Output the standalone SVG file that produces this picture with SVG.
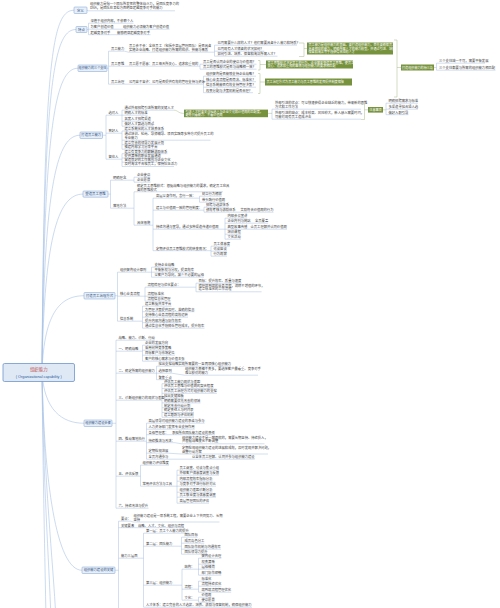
<svg xmlns="http://www.w3.org/2000/svg" width="500" height="608" viewBox="0 0 500 608">
<style>
text{font-family:"Noto Sans CJK SC","Noto Sans",sans-serif}
.t{font-size:3.3px;fill:#404040}
.bt{font-size:3.3px;fill:#2f4f7f;text-anchor:middle}
.gt{font-size:3.1px;fill:#fff}
.box{fill:#e7eff9;stroke:#7b9fd2;stroke-width:.5}
.gbox{fill:#76923c}
.ln{fill:none;stroke:#9cb7de;stroke-width:.45}
.rc{fill:none;stroke:#a9c2e6;stroke-width:.6}
.gl{fill:none;stroke:#a3b27f;stroke-width:.45}
</style>
<rect width="500" height="608" fill="#fff"/>
<g id="connectors">
<path class="rc" d="M42,372 C44,60 52,10.25 74,10.25 M42,372 C44,80 54,29.5 76,29.5 M42,372 C44,120 56,68.25 78,68.25 M42,372 C44,180 58,135.25 80,135.25 M42,372 C44,230 60,194.1 83,194.1 M42,372 C44,310 62,295.75 84,295.75 M42,372 C44,410 62,423.25 84,423.25 M42,372 C44,480 56,570.25 82,570.25 M42,372 C43,480 45,560 46,620 M42,372 C43,480 49,560 51,620 M42,372 C44,480 53,560 56,620"/>
<path class="ln" d="M87,10.25 L88.5,10.8 H175
M87,29.5 H88.5 M88.5,23.2 V34.7 M88.5,23.2 H133.5 M88.5,29.2 H114 L122.5,29.2 H169.5 M88.5,34.7 H110.5 L116.5,34.7 H150.5
M107,68.25 H108.5 M108.5,51.2 V84.2 M108.5,51.2 H124.5 L128.5,52.2 H212 H214.5 M214.5,45.2 V56.2 M214.5,45.2 H297 M214.5,51.2 H264.5 M214.5,56.2 H277.5
M108.5,66.2 H124.5 L128.5,66.2 H200 M200,64.2 V69.2 M200,64.2 H256.5 M200,69.2 H256.5
M108.5,84.2 H124.5 L128.5,84.2 H203.5 M203.5,76.2 V92.7 M203.5,76.2 H256 M203.5,81.7 H256 M203.5,87.2 H256 M203.5,92.7 H253
M434,67.5 H436.5 M436.5,63.2 V70.2 M436.5,63.2 H485 M436.5,70.2 H495.5
M102.5,135.25 H106 M106,115.2 V159.2
M106,115.2 H122 M122,110.2 V126.2 M122,110.2 H174 M122,115.2 H147.6 M122,121.2 H151 M122,126.2 H154
M272,109.2 V119.2 M272,109.2 H361 M272,119.2 H361
M386,103.2 V114.7 M386,103.2 H418 M386,109.2 H418 M386,114.7 H408.5
M106,133.2 H122 M122,131 V149.2 M122,131 H164 M122,140.2 H210.5 M122,144.7 H164 M122,149.2 H157.5
M106,159.2 H122 M122,153.7 V166.5 M122,153.7 H167.4 M122,158 H161 M122,162.2 H167.4 M122,166.5 H174
M108,194.1 H110.5 M110.5,180.2 V208.2
M110.5,180.2 H134 M134,177.2 V182.2 M134,177.2 H150.5 M134,182.2 H150.5
M110.5,208.2 H134 M134,191.8 V225.2 M134,191.8 H223 M134,225.2 H153 M153,198.2 V250.7
M153,198.2 H199.5 M199.5,196.2 V202.2 M199.5,196.2 H222 M199.5,202.2 H225
M153,210.2 H204 M204,207.2 V212.2 M204,207.2 H229 M204,212.2 H236 L240,212.2 H273.5
M153,229.2 H225 M225,218.2 V239.2 M225,218.2 H247.3 M225,223.2 H250.6 L254.5,223.2 H268.2 M225,229.2 H247.3 L250,229.2 H287 M225,234.2 H241 M225,239.2 H241
M153,250.7 H211 M211,246.2 V256.2 M211,246.2 H230 M211,251.2 H227 M211,256.2 H227
M115,295.75 H117.5 M117.5,272.2 V321.2
M117.5,272.2 H151.5 M151.5,267.2 V277.2 M151.5,267.2 H174.5 M151.5,272.2 H194 M151.5,277.2 H204
M117.5,296.2 H145 M145,287.2 V301.2 M145,287.2 H196 M196,283.2 V291.8 M196,283.2 H241.5 M196,291.8 H261.5 M145,296.2 H164 M145,301.2 H170.5
M117.5,321.2 H142.5 M142.5,306.2 V328.2 M142.5,306.2 H171.5 M142.5,311.7 H194.5 M142.5,317.2 H188 M142.5,322.7 H181.5 M142.5,328.2 H204.5
M112,423.25 H116 M116,340.2 V508.2
M116,340.2 H155
M116,351.2 H142.5 M142.5,345.2 V361.2 M142.5,345.2 H168 M142.5,350.2 H171.5 M142.5,355.2 H175 M142.5,361.2 H184.6
M116,373.2 H156.5 M156.5,366.2 V379.7 M156.5,366.2 H231 M156.5,373.2 H171.7 L184.5,375.2 H258 M156.5,379.7 H171.7
M116,400.2 H162 M162,383.7 V417.3 M162,383.7 H197 M162,388.5 H213.5 M162,393.3 H217 M162,398.1 H184 M162,402.9 H200.5 M162,407.7 H190.5 M162,412.5 H194 M162,417.3 H194
M116,441.2 H146.5 M146.5,423.2 V459.2 M146.5,423.2 H204.6 M146.5,429.2 H194.7 M146.5,434.7 H168.3 L171.5,434.7 H215 M146.5,442.7 H175 L181.5,443.8 H264.5 M146.5,453.2 H168.3 L181.5,454 H268 M146.5,459.2 H168.3 L191.5,459.2 H254.7
M116,476.2 H140.5 M140.5,465.2 V486.2 M140.5,465.2 H169 M140.5,486.2 H177 M177,470.2 V503.2 M177,470.2 H219 M177,475.2 H219 M177,481.2 H212.5 M177,486.2 H216 M177,492.2 H212.5 M177,497.2 H216 M177,503.2 H209
M116,508.2 H148.5
M115,570.25 H118.5 M118.5,521.2 V608
M118.5,521.2 H131 L133,522 H219.5
M118.5,527.7 H134.2 L137.5,527.7 H184.2
M118.5,558.2 H143.5 M143.5,533.2 V607.2 M143.5,533.2 H189 M143.5,546.2 H181.5 M181.5,537.2 V554.2 M181.5,537.2 H197.7 M181.5,543.2 H204.3 M181.5,549.2 H221 M181.5,554.2 H207.6
M143.5,585.2 H182 M182,569.2 V600.2 M182,569.2 H198.5 M198.5,558.2 V575.2 M198.5,558.2 H221.3 M198.5,564.2 H214.7 M198.5,569.2 H214.7 M198.5,575.2 H221.3
M182,589.2 H198.5 M198.5,581.2 V592.2 M198.5,581.2 H211.4 M198.5,586.2 H221.3 M198.5,592.2 H231.2
M182,600.2 H198.5 M198.5,597.2 V602.2 M198.5,597.2 H211.4 M198.5,602.2 H214.7 M143.5,607.2 H252"/>
<path class="gl" d="M299,43 H304 V56.5 H299 M304,48.5 H307 M258,60.5 H260 V70 H258 M260,64.5 H266 M258,73.5 H260 V93.5 H258 M260,82 H265 M394,40 H397 V97 H394 M397,67.5 H401 M174,110.2 C178,110.2 178,113.4 184,113.4 M268,113.4 H272 M361,104 H364.5 V119.5 H361 M364.5,109.8 H368 M383,109.8 H386"/>
</g>
<g id="root">
<rect x="3" y="363.5" width="71.5" height="18" rx="1.5" fill="#dfe9f6" stroke="#6f95cb" stroke-width=".8"/>
<text x="38.75" y="371" text-anchor="middle" style="font-size:4.4px;fill:#c0504d">组织能力</text>
<text x="38.75" y="377.6" text-anchor="middle" style="font-family:'Liberation Sans',sans-serif;font-size:3.8px;fill:#2e5c9a">( Organizational capability )</text>
</g>
<g id="n1">
<rect class="box" x="74" y="7" width="13" height="6.5" rx=".8"/>
<text class="bt" x="80.5" y="11.5" style="font-size:3.4px">定义</text>
</g>
<g id="n1-1"><text class="t" x="90" y="5.3">组织能力是指一个团队所发挥的整体战斗力，是团队竞争力的</text><text class="t" x="90" y="9.3">DNA，是团队在某些方面明显超越竞争对手的能力</text></g>
<g id="n2">
<rect class="box" x="76" y="26.5" width="11" height="6" rx=".8"/>
<text class="bt" x="81.5" y="30.7" style="font-size:3.4px">特点</text>
</g>
<g id="n2-1"><text class="t" x="90.5" y="22.15">深植于组织内部，不依赖个人</text></g>
<g id="n2-2"><text class="t" x="90.5" y="28.15">为客户创造价值</text><text class="t" x="123" y="28.15">组织能力必须能为客户创造价值</text></g>
<g id="n2-3"><text class="t" x="90.5" y="33.65">超越竞争对手</text><text class="t" x="117" y="33.65">能够明显超越竞争对手</text></g>
<g id="n3">
<rect class="box" x="78" y="65" width="29" height="6.5" rx=".8"/>
<text class="bt" x="92.5" y="69.4" style="font-size:3.1px">组织能力的三个支柱</text>
</g>
<g id="n3-1"><text class="t" x="111" y="50.15">员工能力</text></g>
<g id="n3-1-1"><text class="t" x="129" y="47">员工会不会：全体员工（包括中高层管理团队）是否具备</text><text class="t" x="129" y="50.8">实施企业战略、打造组织能力所需的知识、技能与素质</text></g>
<g id="n3-1-2"><text class="t" x="217.5" y="44.15">公司需要什么样的人才？他们需要具备什么能力和特质？</text></g>
<g id="n3-1-3"><text class="t" x="217.5" y="50.15">公司现有人才储备的状况如何？</text></g>
<g id="n3-1-4"><text class="t" x="217.5" y="55.15">如何引进、培养、保留和淘汰所需人才？</text></g>
<g id="g1"><rect class="gbox" x="307" y="42.5" width="86" height="12"/><text class="gt" x="308.5" y="46">员工能力是组织能力的基础。要打造组织能力，首先要确保员工</text><text class="gt" x="308.5" y="49.6">具备相应的能力，明确所需人才的能力模型，并通过引进、培养、</text><text class="gt" x="308.5" y="53.2">保留和淘汰等手段获得合适的人才</text></g>
<g id="n3-2"><text class="t" x="111" y="65.15">员工思维</text></g>
<g id="n3-2-1"><text class="t" x="129" y="65.15">员工愿不愿意：员工每天所关心、追求和重视的</text></g>
<g id="n3-2-2"><text class="t" x="203" y="63.15">员工是否认同企业的使命与价值观？</text></g>
<g id="n3-2-3"><text class="t" x="203" y="68.15">员工的思维模式是否与战略相一致？</text></g>
<g id="g2"><rect class="gbox" x="266" y="60.5" width="87" height="8"/><text class="gt" x="267.5" y="63.8">员工思维模式决定员工的行为。企业需要塑造员工思维，使员工</text><text class="gt" x="267.5" y="67.4">关心、追求和重视的事情与组织能力的要求相匹配</text></g>
<g id="n3-3"><text class="t" x="111" y="83.15">员工治理</text></g>
<g id="n3-3-1"><text class="t" x="129" y="83.15">公司容不容许：公司是否提供有效的管理支持与资源</text></g>
<g id="n3-3-2"><text class="t" x="206" y="75.15">组织架构是否能够支持企业战略？</text></g>
<g id="n3-3-3"><text class="t" x="206" y="80.65">核心业务流程是否简洁、标准化？</text></g>
<g id="n3-3-4"><text class="t" x="206" y="86.15">信息系统能否有效支持管理决策？</text></g>
<g id="n3-3-5"><text class="t" x="206" y="91.65">权责分配与决策机制是否合理？</text></g>
<g id="g3"><rect class="gbox" x="265" y="78.5" width="87" height="7"/><text class="gt" x="266.5" y="83.1">员工治理方式为员工能力与员工思维的发挥提供制度保障</text></g>
<g id="g4"><rect class="gbox" x="401" y="64.5" width="33" height="6"/><text class="gt" x="417.5" y="68.6" text-anchor="middle">打造组织能力的杨三角</text></g>
<g id="n3-4"><text class="t" x="439" y="62.15">三个支柱缺一不可，需要平衡发展</text></g>
<g id="n3-5"><text class="t" x="439" y="69.15">三个支柱都要与所需的组织能力相匹配</text></g>
<g id="n4">
<rect class="box" x="80" y="132" width="22.5" height="6.5" rx=".8"/>
<text class="bt" x="91.25" y="136.4">打造员工能力</text>
</g>
<g id="n4-1"><text class="t" x="108.5" y="114.15">选对人</text></g>
<g id="n4-1-1"><text class="t" x="124.5" y="109.15">通过外部招聘引进所需的关键人才</text></g>
<g id="n4-1-2"><text class="t" x="124.5" y="114.15">明确人才的标准</text></g>
<g id="n4-1-3"><text class="t" x="124.5" y="120.15">拓宽人才招聘渠道</text></g>
<g id="n4-1-4"><text class="t" x="124.5" y="125.15">做好人才甄选与面试</text></g>
<g id="g5"><rect class="gbox" x="184" y="109.6" width="84" height="7.6"/><text class="gt" x="185.5" y="112.7">引进人才时要关注候选人与企业文化和价值观的匹配度，</text><text class="gt" x="185.5" y="116.3">避免只看能力、不看价值观</text></g>
<g id="n4-1-5"><text class="t" x="275" y="104.2">外部引进的优点：可以快速获得企业缺乏的能力，带来新的思维</text><text class="t" x="275" y="107.8">方式和工作方法</text></g>
<g id="n4-1-6"><text class="t" x="275" y="114.2">外部引进的缺点：成本较高、风险较大，新人融入需要时间，</text><text class="t" x="275" y="117.8">可能对现有员工造成冲击</text></g>
<g id="g6"><rect class="gbox" x="368" y="107" width="15" height="5.6"/><text class="gt" x="375.5" y="110.9" text-anchor="middle">注意事项</text></g>
<g id="n4-1-7"><text class="t" x="388.5" y="102.15">明确招聘需求与标准</text></g>
<g id="n4-1-8"><text class="t" x="388.5" y="108.15">多渠道寻找合适人选</text></g>
<g id="n4-1-9"><text class="t" x="388.5" y="113.65">做好入职引导</text></g>
<g id="n4-2"><text class="t" x="108.5" y="132.15">育好人</text></g>
<g id="n4-2-1"><text class="t" x="124.5" y="129.95">建立系统化的人才培养体系</text></g>
<g id="n4-2-2"><text class="t" x="124.5" y="135">通过培训、轮岗、导师辅导、项目实践等多种方式提升员工的</text><text class="t" x="124.5" y="138.7">专业能力</text></g>
<g id="n4-2-3"><text class="t" x="124.5" y="143.65">建立完善的领导力发展计划</text></g>
<g id="n4-2-4"><text class="t" x="124.5" y="148.15">搭建内部学习分享平台</text></g>
<g id="n4-3"><text class="t" x="108.5" y="158.15">留住人</text></g>
<g id="n4-3-1"><text class="t" x="124.5" y="152.65">建立有竞争力的薪酬激励体系</text></g>
<g id="n4-3-2"><text class="t" x="124.5" y="156.95">提供清晰的职业发展通道</text></g>
<g id="n4-3-3"><text class="t" x="124.5" y="161.15">营造良好的工作氛围与企业文化</text></g>
<g id="n4-3-4"><text class="t" x="124.5" y="165.45">及时淘汰不合格员工，保持队伍活力</text></g>
<g id="n5">
<rect class="box" x="83" y="191" width="25" height="6.2" rx=".8"/>
<text class="bt" x="95.5" y="195.3" style="font-size:3.4px">塑造员工思维</text>
</g>
<g id="n5-1"><text class="t" x="113" y="179.15">明确理念</text></g>
<g id="n5-1-1"><text class="t" x="137" y="176.15">企业使命</text></g>
<g id="n5-1-2"><text class="t" x="137" y="181.15">企业愿景</text></g>
<g id="n5-2"><text class="t" x="113" y="207.15">落地方法</text></g>
<g id="n5-2-1"><text class="t" x="137" y="187">确定员工思维模式：根据战略与组织能力的要求，确定员工应具</text><text class="t" x="137" y="190.6">备的思维模式</text></g>
<g id="n5-2-2"><text class="t" x="137" y="224.15">具体措施</text></g>
<g id="n5-2-2-1"><text class="t" x="156" y="197.15">高层以身作则，言行一致：</text></g>
<g id="n5-a1"><text class="t" x="202" y="195.15">树立行为榜样</text></g>
<g id="n5-a2"><text class="t" x="202" y="201.15">带头践行价值观</text></g>
<g id="n5-2-2-2"><text class="t" x="156" y="209.15">建立与价值观一致的管理制度：</text></g>
<g id="n5-b1"><text class="t" x="206" y="206.15">招聘与选拔体系</text></g>
<g id="n5-b2"><text class="t" x="206" y="211.15">绩效考核与激励体系</text></g>
<g id="n5-b3"><text class="t" x="240.5" y="211.15">奖励符合价值观的行为</text></g>
<g id="n5-2-2-3"><text class="t" x="156" y="228.15">持续沟通与宣导，通过多种渠道传递价值观</text></g>
<g id="n5-c1"><text class="t" x="227.5" y="217.15">内部会议宣讲</text></g>
<g id="n5-c2"><text class="t" x="227.5" y="222.15">企业内刊与网站</text></g>
<g id="n5-c3"><text class="t" x="255" y="222.15">全员覆盖</text></g>
<g id="n5-c4"><text class="t" x="227.5" y="228.15">典型故事传播</text></g>
<g id="n5-c5"><text class="t" x="250.5" y="228.15">让员工理解并认同价值观</text></g>
<g id="n5-c6"><text class="t" x="227.5" y="233.15">培训课程</text></g>
<g id="n5-c7"><text class="t" x="227.5" y="238.15">文化活动</text></g>
<g id="n5-2-2-4"><text class="t" x="156" y="249.65">定期评估员工思维模式的转变情况：</text></g>
<g id="n5-d1"><text class="t" x="213.5" y="245.15">员工满意度</text></g>
<g id="n5-d2"><text class="t" x="213.5" y="250.15">访谈座谈</text></g>
<g id="n5-d3"><text class="t" x="213.5" y="255.15">行为观察</text></g>
<g id="n6">
<rect class="box" x="84" y="292.5" width="31" height="6.5" rx=".8"/>
<text class="bt" x="99.5" y="296.95" style="font-size:3.4px">打造员工治理方式</text>
</g>
<g id="n6-1"><text class="t" x="120" y="271.15">组织架构设计原则</text></g>
<g id="n6-1-1"><text class="t" x="154.5" y="266.15">支持企业战略</text></g>
<g id="n6-1-2"><text class="t" x="154.5" y="271.15">平衡集权与分权，提高效率</text></g>
<g id="n6-1-3"><text class="t" x="154.5" y="276.15">以客户为导向，减少不必要的层级</text></g>
<g id="n6-2"><text class="t" x="120" y="295.15">核心业务流程</text></g>
<g id="n6-2-1"><text class="t" x="147.5" y="286.15">流程梳理与优化要点：</text></g>
<g id="n6-2-1-1"><text class="t" x="198.5" y="282.15">目标：提升效率、质量与速度</text></g>
<g id="n6-2-1-2"><text class="t" x="198.5" y="286.8">梳理端到端的业务流程，消除不增值的环节，</text><text class="t" x="198.5" y="290.4">建立标准化的工作流程</text></g>
<g id="n6-2-2"><text class="t" x="147.5" y="295.15">流程标准化</text></g>
<g id="n6-2-3"><text class="t" x="147.5" y="300.15">流程信息化管理</text></g>
<g id="n6-3"><text class="t" x="120" y="320.15">信息系统</text></g>
<g id="n6-3-1"><text class="t" x="145" y="305.15">建立数据共享平台</text></g>
<g id="n6-3-2"><text class="t" x="145" y="310.65">为管理决策提供及时、准确的信息</text></g>
<g id="n6-3-3"><text class="t" x="145" y="316.15">支持核心业务流程的高效运转</text></g>
<g id="n6-3-4"><text class="t" x="145" y="321.65">提升内部沟通与协作效率</text></g>
<g id="n6-3-5"><text class="t" x="145" y="327.15">通过信息化手段降低管理成本，提升效率</text></g>
<g id="n7">
<rect class="box" x="84" y="420" width="28" height="6.5" rx=".8"/>
<text class="bt" x="98" y="424.4" style="font-size:3.2px">组织能力建设步骤</text>
</g>
<g id="n7-1"><text class="t" x="118.5" y="339.15">战略、能力、诊断、行动</text></g>
<g id="n7-2"><text class="t" x="118.5" y="350.15">一、明确战略</text></g>
<g id="n7-2-1"><text class="t" x="145" y="344.15">企业的发展方向</text></g>
<g id="n7-2-2"><text class="t" x="145" y="349.15">采用何种竞争策略</text></g>
<g id="n7-2-3"><text class="t" x="145" y="354.15">目标客户与市场定位</text></g>
<g id="n7-2-4"><text class="t" x="145" y="360.15">客户的核心需求与价值主张</text></g>
<g id="n7-3"><text class="t" x="118.5" y="372.15">二、确定所需的组织能力</text></g>
<g id="n7-3-1"><text class="t" x="158.5" y="365.15">找出支撑战略实现所需要的一至两项核心组织能力</text></g>
<g id="n7-3-2"><text class="t" x="158.5" y="372.15">选择原则</text></g>
<g id="n7-3-2-1"><text class="t" x="185" y="370.2">组织能力贵精不贵多，要选择客户最看重、竞争对手</text><text class="t" x="185" y="373.8">难以模仿的能力</text></g>
<g id="n7-3-3"><text class="t" x="158.5" y="378.65">聚焦重点</text></g>
<g id="n7-4"><text class="t" x="118.5" y="399.15">三、诊断组织能力的现状与差距</text></g>
<g id="n7-4-1"><text class="t" x="164" y="382.65">评估员工能力现状与差距</text></g>
<g id="n7-4-2"><text class="t" x="164" y="387.45">评估员工思维与价值观的契合程度</text></g>
<g id="n7-4-3"><text class="t" x="164" y="392.25">评估员工治理方式对组织能力的支撑</text></g>
<g id="n7-4-4"><text class="t" x="164" y="397.05">找出关键短板</text></g>
<g id="n7-4-5"><text class="t" x="164" y="401.85">明确需要优先改善的领域</text></g>
<g id="n7-4-6"><text class="t" x="164" y="406.65">制定改善行动计划</text></g>
<g id="n7-4-7"><text class="t" x="164" y="411.45">确定责任人与时间表</text></g>
<g id="n7-4-8"><text class="t" x="164" y="416.25">建立跟踪与评估机制</text></g>
<g id="n7-5"><text class="t" x="118.5" y="440.15">四、推动落地执行</text></g>
<g id="n7-5-1"><text class="t" x="148.5" y="422.15">高层领导对组织能力建设的承诺与参与</text></g>
<g id="n7-5-2"><text class="t" x="148.5" y="428.15">人力资源部门发挥专业支持作用</text></g>
<g id="n7-5-3"><text class="t" x="148.5" y="433.65">各级管理者：</text><text class="t" x="172" y="433.65">承担所在团队能力建设的责任</text></g>
<g id="n7-5-4"><text class="t" x="148.5" y="441.65">持续推进与改进：</text></g>
<g id="n7-5-4-1"><text class="t" x="182" y="438.8">组织能力建设不是一蹴而就的，需要长期坚持、持续投入，</text><text class="t" x="182" y="442.4">并根据战略变化不断调整</text></g>
<g id="n7-5-5"><text class="t" x="148.5" y="452.15">定期检视进展</text></g>
<g id="n7-5-5-1"><text class="t" x="182" y="449">定期检视组织能力建设的进展和成效，及时发现并解决问题，</text><text class="t" x="182" y="452.6">调整行动方案</text></g>
<g id="n7-5-6"><text class="t" x="148.5" y="458.15">全员沟通参与</text><text class="t" x="192" y="458.15">让全体员工理解、认同并参与组织能力建设</text></g>
<g id="n7-6"><text class="t" x="118.5" y="475.15">五、评估反馈</text></g>
<g id="n7-6-1"><text class="t" x="142.5" y="464.15">组织能力评估维度</text></g>
<g id="n7-6-2"><text class="t" x="142.5" y="485.15">常用评估方法与工具</text></g>
<g id="n7-6-2-1"><text class="t" x="179.5" y="469.15">员工调查、访谈与焦点小组</text></g>
<g id="n7-6-2-2"><text class="t" x="179.5" y="474.15">外部客户满意度调查与反馈</text></g>
<g id="n7-6-2-3"><text class="t" x="179.5" y="480.15">内部流程效率指标分析</text></g>
<g id="n7-6-2-4"><text class="t" x="179.5" y="485.15">与竞争对手进行标杆对比</text></g>
<g id="n7-6-2-5"><text class="t" x="179.5" y="491.15">组织能力差距诊断分析</text></g>
<g id="n7-6-2-6"><text class="t" x="179.5" y="496.15">员工敬业度与满意度调查</text></g>
<g id="n7-6-2-7"><text class="t" x="179.5" y="502.15">高层管理团队的评估</text></g>
<g id="n7-7"><text class="t" x="118.5" y="507.15">六、持续改进与提升</text></g>
<g id="n8">
<rect class="box" x="82" y="567" width="33" height="6.5" rx=".8"/>
<text class="bt" x="98.5" y="571.4">组织能力建设的关键</text>
</g>
<g id="n8-1"><text class="t" x="121" y="520.15">要点：</text><text class="t" x="133.5" y="517">组织能力建设是一项系统工程，需要企业上下共同努力、长期</text><text class="t" x="133.5" y="520.6">坚持</text></g>
<g id="n8-2"><text class="t" x="121" y="526.65">关键要素</text><text class="t" x="138" y="526.65">战略、人才、文化、组织与流程</text></g>
<g id="n8-3"><text class="t" x="121" y="557.15">能力三层面</text></g>
<g id="n8-3-1"><text class="t" x="146" y="532.15">第一层：员工个人能力的提升</text></g>
<g id="n8-3-2"><text class="t" x="146" y="545.15">第二层：团队能力</text></g>
<g id="n8-3-2-1"><text class="t" x="184.5" y="536.15">团队目标</text></g>
<g id="n8-3-2-2"><text class="t" x="184.5" y="542.15">成员角色分工</text></g>
<g id="n8-3-2-3"><text class="t" x="184.5" y="548.15">团队协作机制与沟通效率</text></g>
<g id="n8-3-2-4"><text class="t" x="184.5" y="553.15">团队领导力提升</text></g>
<g id="n8-3-3"><text class="t" x="146" y="584.15">第三层：组织能力</text></g>
<g id="n8-s"><text class="t" x="184.5" y="568.15">结构：</text></g>
<g id="n8-s1"><text class="t" x="201.5" y="557.15">架构设计合理</text></g>
<g id="n8-s2"><text class="t" x="201.5" y="563.15">权责清晰</text></g>
<g id="n8-s3"><text class="t" x="201.5" y="568.15">层级精简</text></g>
<g id="n8-s4"><text class="t" x="201.5" y="574.15">部门协作顺畅</text></g>
<g id="n8-p"><text class="t" x="184.5" y="588.15">流程：</text></g>
<g id="n8-p1"><text class="t" x="201.5" y="580.15">标准化</text></g>
<g id="n8-p2"><text class="t" x="201.5" y="585.15">流程持续优化</text></g>
<g id="n8-p3"><text class="t" x="201.5" y="591.15">端到端流程管理优化</text></g>
<g id="n8-c"><text class="t" x="184.5" y="599.15">文化：</text></g>
<g id="n8-c1"><text class="t" x="201.5" y="596.15">价值观</text></g>
<g id="n8-c2"><text class="t" x="201.5" y="601.15">使命愿景</text></g>
<g id="n8-3-4"><text class="t" x="146" y="606.1">人才体系：建立完善的人才选拔、培养、激励与保留机制，确保组织能力</text></g>
</svg>
